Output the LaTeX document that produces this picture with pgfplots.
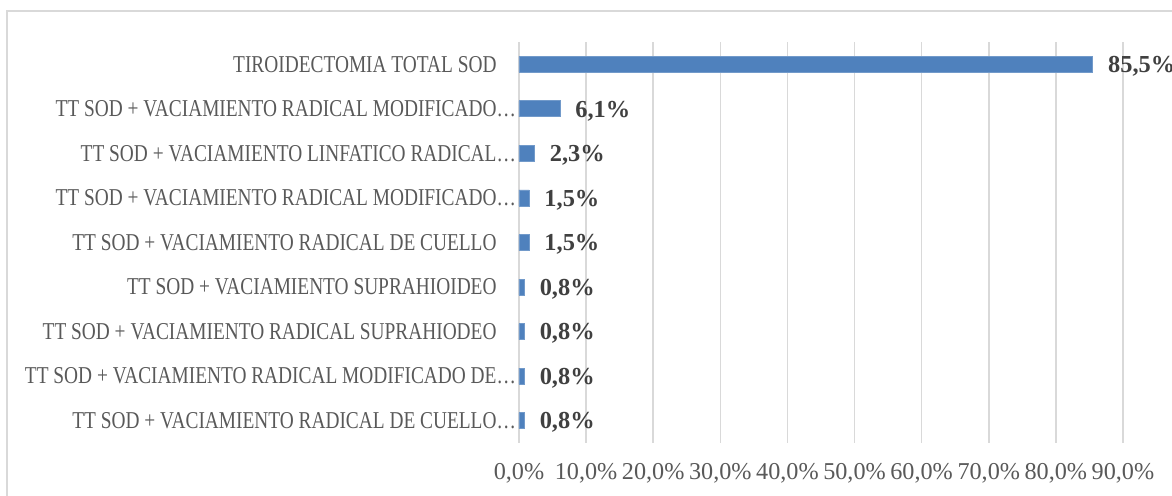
\documentclass[border=0pt]{standalone}
\usepackage{fontspec}
\setmainfont{Liberation Serif}
\newfontfamily\catfont[FakeStretch=0.8]{Liberation Serif}
\usepackage{pgfplots}
\pgfplotsset{compat=1.18}
\definecolor{barblue}{HTML}{4F81BD}
\definecolor{labgray}{HTML}{595959}
\definecolor{datgray}{HTML}{404040}
\definecolor{gridgray}{HTML}{D9D9D9}
\begin{document}
\begin{tikzpicture}
\path[use as bounding box] (0,0) rectangle (586pt,248pt);
\draw[gridgray, line width=1pt] (3.5pt,-2pt) -- (3.5pt,242.5pt) -- (590pt,242.5pt);
\begin{axis}[
  at={(259.5pt,26.5pt)}, anchor=south west,
  width=302pt, height=200.5pt, scale only axis,
  xbar, bar width=8pt,
  xmin=0, xmax=90, ymin=-0.5, ymax=8.5,
  y dir=reverse,
  axis line style={draw=none},
  major tick length=0pt,
  xmajorgrids, grid style={gridgray, line width=0.8pt},
  xtick={0,10,...,90},
  xticklabels={{0,0\%},{10,0\%},{20,0\%},{30,0\%},{40,0\%},{50,0\%},{60,0\%},{70,0\%},{80,0\%},{90,0\%}},
  xticklabel style={anchor=center, inner sep=0pt, yshift=-15pt, font=\fontsize{12.1}{14}\selectfont, text=labgray},
  ytick={0,...,8},
  yticklabels={
    {TIROIDECTOMIA TOTAL SOD},
    {TT SOD + VACIAMIENTO RADICAL MODIFICADO\rlap{…}},
    {TT SOD + VACIAMIENTO LINFATICO RADICAL\rlap{…}},
    {TT SOD + VACIAMIENTO RADICAL MODIFICADO\rlap{…}},
    {TT SOD + VACIAMIENTO RADICAL DE CUELLO},
    {TT SOD + VACIAMIENTO SUPRAHIOIDEO},
    {TT SOD + VACIAMIENTO RADICAL SUPRAHIODEO},
    {TT SOD + VACIAMIENTO RADICAL MODIFICADO DE\rlap{…}},
    {TT SOD + VACIAMIENTO RADICAL DE CUELLO\rlap{…}}},
  yticklabel style={anchor=east, inner sep=0pt, xshift=-11pt, font=\catfont\fontsize{12.1}{14}\selectfont, text=labgray},
  point meta=explicit symbolic,
  nodes near coords,
  nodes near coords style={anchor=west, inner sep=0pt, xshift=7.5pt, yshift=-1pt, font=\bfseries\fontsize{12.2}{14}\selectfont, text=datgray},
  clip=false,
]
\addplot[fill=barblue, draw=barblue!80!white, line width=0.4pt] coordinates {
  (85.5,0) [85,5\%]
  (6.1,1) [6,1\%]
  (2.3,2) [2,3\%]
  (1.5,3) [1,5\%]
  (1.5,4) [1,5\%]
  (0.8,5) [0,8\%]
  (0.8,6) [0,8\%]
  (0.8,7) [0,8\%]
  (0.8,8) [0,8\%]
};
\end{axis}
\end{tikzpicture}
\end{document}
